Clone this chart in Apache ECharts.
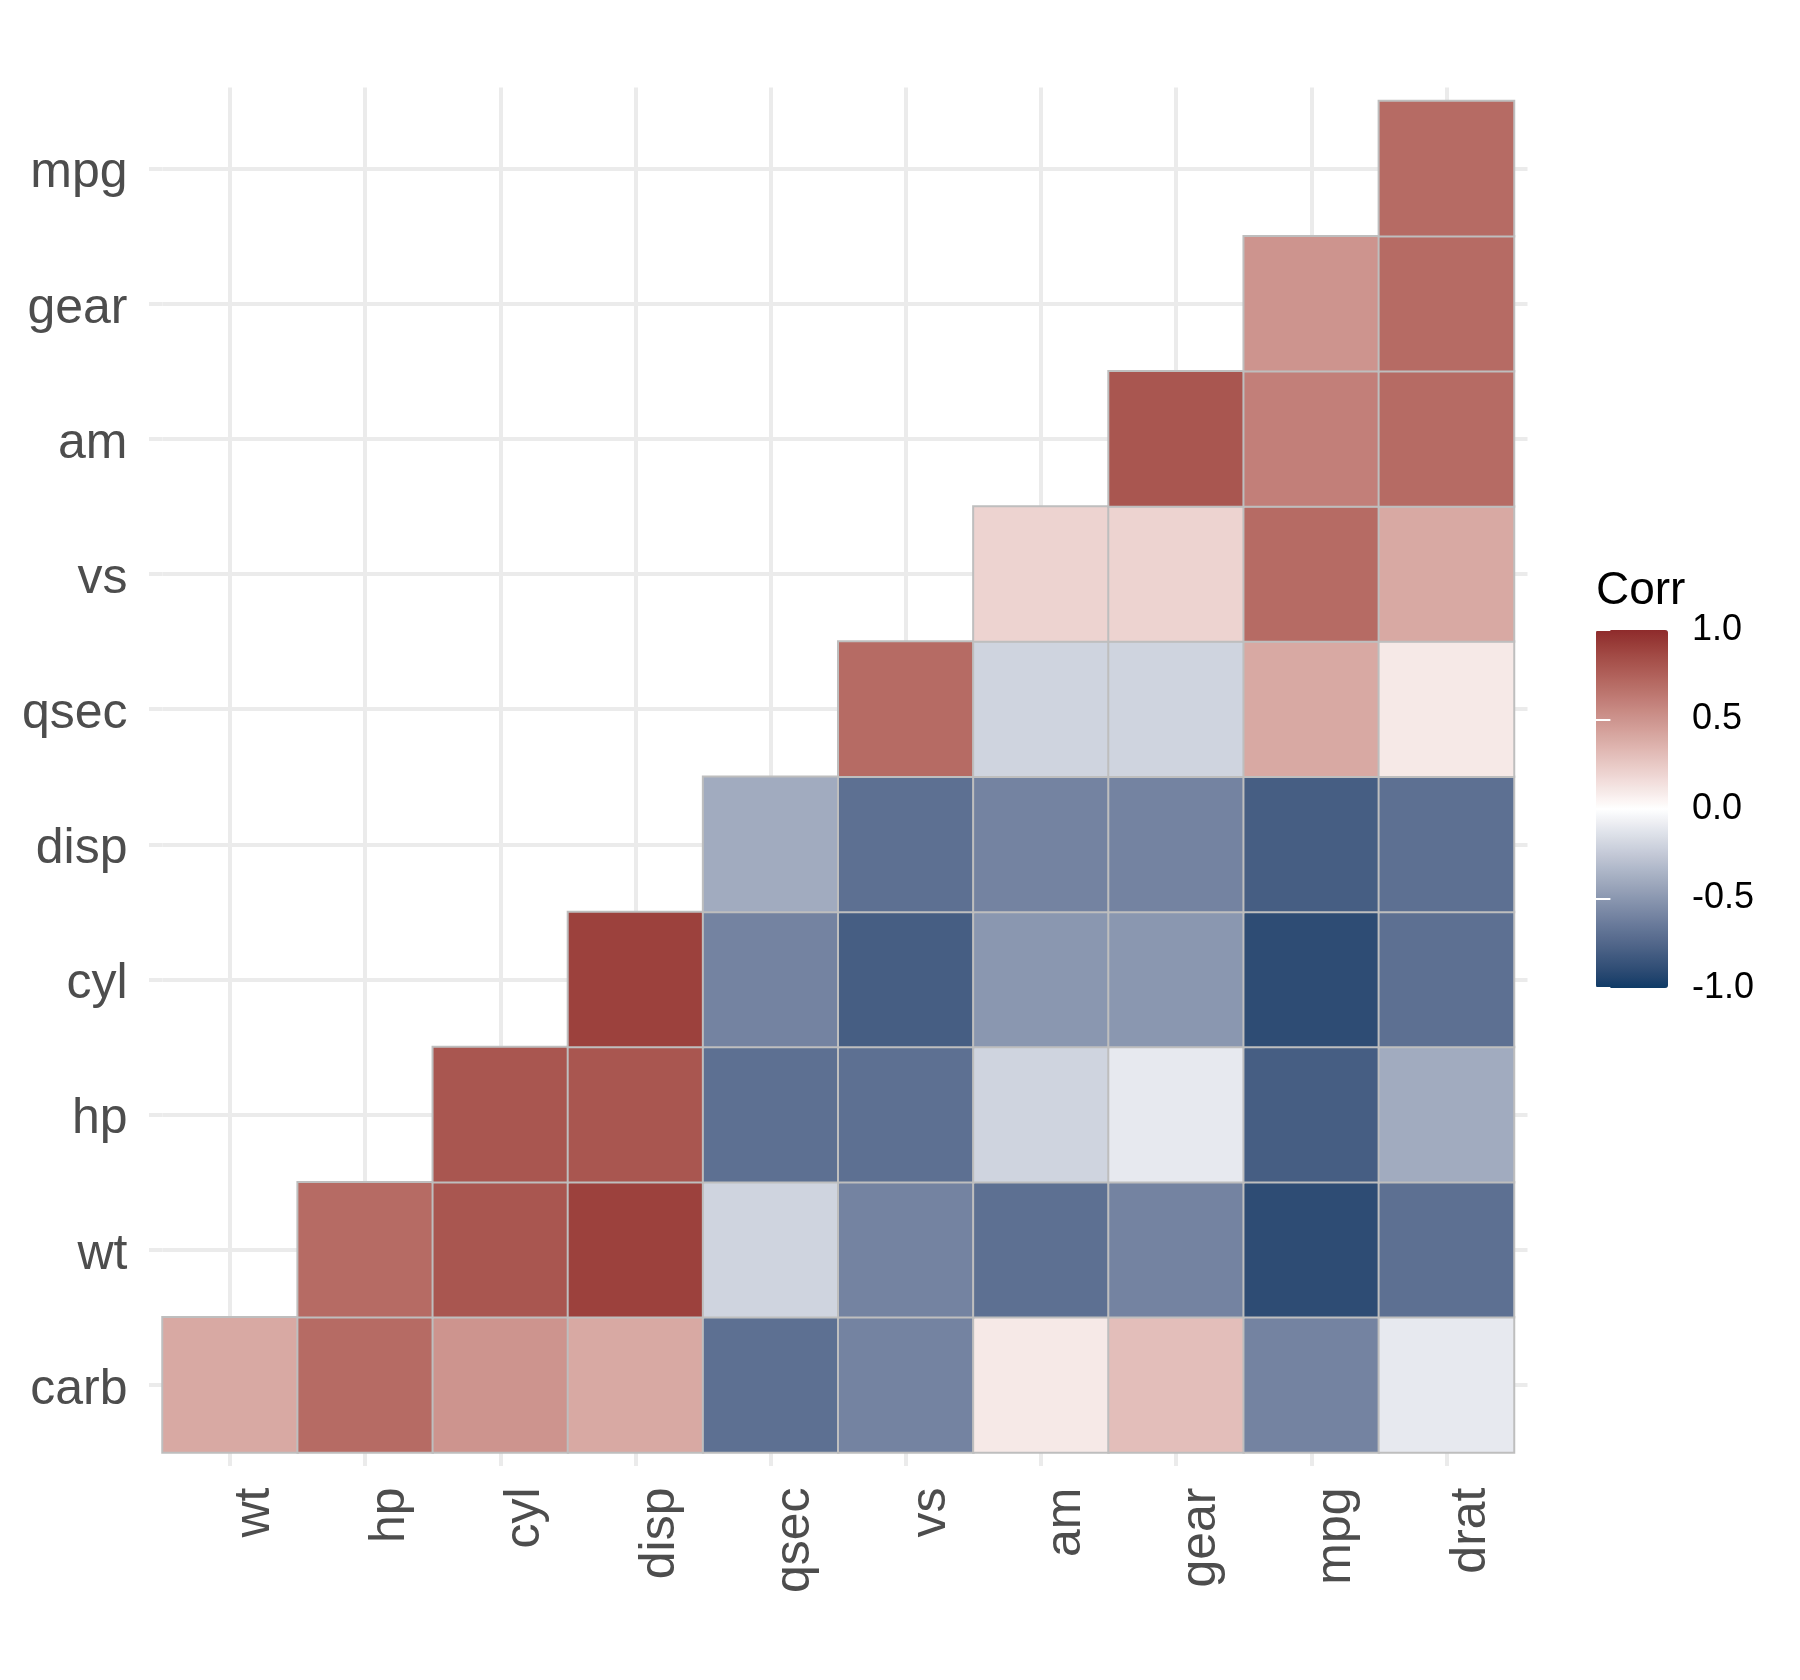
<!DOCTYPE html>
<html>
<head>
<meta charset="utf-8">
<script src="https://cdn.jsdelivr.net/npm/echarts@6/dist/echarts.min.js"></script>
<style>
html,body{margin:0;padding:0;background:#fff;}
#chart{width:1800px;height:1680px;}
</style>
</head>
<body>
<div id="chart"></div>
<script>
// ---- data ----
var xCategories = ['wt','hp','cyl','disp','qsec','vs','am','gear','mpg','drat'];
var yCategories = ['carb','wt','hp','cyl','disp','qsec','vs','am','gear','mpg'];
var rowCarb = [0.4, 0.7, 0.5, 0.4, -0.7, -0.6, 0.1, 0.3, -0.6, -0.1];
var rowWt   = [null, 0.7, 0.8, 0.9, -0.2, -0.6, -0.7, -0.6, -0.9, -0.7];
var rowHp   = [null, null, 0.8, 0.8, -0.7, -0.7, -0.2, -0.1, -0.8, -0.4];
var rowCyl  = [null, null, null, 0.9, -0.6, -0.8, -0.5, -0.5, -0.9, -0.7];
var rowDisp = [null, null, null, null, -0.4, -0.7, -0.6, -0.6, -0.8, -0.7];
var rowQsec = [null, null, null, null, null, 0.7, -0.2, -0.2, 0.4, 0.1];
var rowVs   = [null, null, null, null, null, null, 0.2, 0.2, 0.7, 0.4];
var rowAm   = [null, null, null, null, null, null, null, 0.8, 0.6, 0.7];
var rowGear = [null, null, null, null, null, null, null, null, 0.5, 0.7];
var rowMpg  = [null, null, null, null, null, null, null, null, null, 0.7];
var legendTicks = [-1, -0.5, 0, 0.5, 1];

var rows = [rowCarb, rowWt, rowHp, rowCyl, rowDisp, rowQsec, rowVs, rowAm, rowGear, rowMpg];
var heatData = [];
rows.forEach(function (row, yi) {
  row.forEach(function (v, xi) {
    if (v !== null) heatData.push([xi, yi, v]);
  });
});

// ---- Lab interpolation of gradient2 (low, white, high) ----
var LOW = '#0E3B66', MID = '#FFFFFF', HIGH = '#8E2B2B';
function hexToRgb(h){h=h.replace('#','');return [parseInt(h.substr(0,2),16),parseInt(h.substr(2,2),16),parseInt(h.substr(4,2),16)];}
function s2l(c){c/=255;return c<=0.04045?c/12.92:Math.pow((c+0.055)/1.055,2.4);}
function l2s(c){c=c<=0.0031308?12.92*c:1.055*Math.pow(c,1/2.4)-0.055;return Math.max(0,Math.min(255,Math.round(c*255)));}
function rgbToLab(rgb){
  var r=s2l(rgb[0]),g=s2l(rgb[1]),b=s2l(rgb[2]);
  var X=(0.4124*r+0.3576*g+0.1805*b)/0.95047,Y=0.2126*r+0.7152*g+0.0722*b,Z=(0.0193*r+0.1192*g+0.9505*b)/1.08883;
  function f(t){return t>0.008856?Math.cbrt(t):7.787*t+16/116;}
  var fx=f(X),fy=f(Y),fz=f(Z);
  return [116*fy-16,500*(fx-fy),200*(fy-fz)];
}
function labToHex(lab){
  var fy=(lab[0]+16)/116,fx=fy+lab[1]/500,fz=fy-lab[2]/200;
  function fi(t){return t>0.206893?t*t*t:(t-16/116)/7.787;}
  var X=fi(fx)*0.95047,Y=fi(fy),Z=fi(fz)*1.08883;
  var r=3.2406*X-1.5372*Y-0.4986*Z,g=-0.9689*X+1.8758*Y+0.0415*Z,b=0.0557*X-0.2040*Y+1.0570*Z;
  return 'rgb('+l2s(r)+','+l2s(g)+','+l2s(b)+')';
}
var labLow=rgbToLab(hexToRgb(LOW)),labMid=rgbToLab(hexToRgb(MID)),labHigh=rgbToLab(hexToRgb(HIGH));
var gradient=[];
var N=40;
for(var i=0;i<=N;i++){
  var v=-1+2*i/N,a,b,t;
  if(v<0){a=labMid;b=labLow;t=-v;}else{a=labMid;b=labHigh;t=v;}
  gradient.push(labToHex([a[0]+(b[0]-a[0])*t,a[1]+(b[1]-a[1])*t,a[2]+(b[2]-a[2])*t]));
}

var FONT = 'Liberation Sans';
var GRIDCOL = '#EBEBEB';
var chart = echarts.init(document.getElementById('chart'), null, {renderer:'canvas'});
var tickBase = {show:true, alignWithLabel:true, length:13.5, lineStyle:{color:GRIDCOL, width:4}};
var splitBase = {show:true, alignWithLabel:true, lineStyle:{color:GRIDCOL, width:4}};

chart.setOption({
  animation:false,
  backgroundColor:'#ffffff',
  title:{text:'Corr', left:1596, top:568, padding:0,
    textStyle:{fontFamily:FONT, fontSize:46, fontWeight:'normal', color:'#000000'}},
  grid:[
    {left:162.5, top:101, width:1351.5, height:1351.5, containLabel:false},
    {left:1596, top:630, width:72, height:358, containLabel:false}
  ],
  xAxis:[
    {type:'category', gridIndex:0, data:xCategories, position:'bottom',
     axisLine:{show:false}, axisTick:tickBase, splitLine:splitBase,
     axisLabel:{rotate:90, margin:35, verticalAlign:'top', fontFamily:FONT, fontSize:50, color:'#4D4D4D'}},
    {type:'category', gridIndex:0, data:xCategories, position:'top',
     axisLine:{show:false}, axisTick:tickBase, splitLine:{show:false}, axisLabel:{show:false}},
    {type:'value', gridIndex:1, min:0, max:1, show:false}
  ],
  yAxis:[
    {type:'category', gridIndex:0, data:yCategories, position:'left',
     axisLine:{show:false}, axisTick:tickBase, splitLine:splitBase,
     axisLabel:{margin:35, verticalAlign:'top', lineHeight:10, fontFamily:FONT, fontSize:50, color:'#4D4D4D'}},
    {type:'category', gridIndex:0, data:yCategories, position:'right',
     axisLine:{show:false}, axisTick:tickBase, splitLine:{show:false}, axisLabel:{show:false}},
    {type:'value', gridIndex:1, min:legendTicks[0], max:legendTicks[legendTicks.length-1], interval:0.5, position:'right', z:10,
     axisLine:{show:false}, splitLine:{show:false},
     axisTick:{show:true, inside:true, length:14.4, lineStyle:{color:'#FFFFFF', width:2}},
     axisLabel:{margin:24, fontFamily:FONT, fontSize:36, color:'#000000', formatter:function(v){return v.toFixed(1);}}},
    {type:'value', gridIndex:1, min:legendTicks[0], max:legendTicks[legendTicks.length-1], interval:0.5, position:'left', z:10,
     axisLine:{show:false}, splitLine:{show:false},
     axisTick:{show:true, inside:true, length:14.4, lineStyle:{color:'#FFFFFF', width:2}},
     axisLabel:{show:false}}
  ],
  visualMap:{
    type:'continuous', min:-1, max:1, calculable:false, orient:'vertical',
    left:1596, top:630, itemWidth:72, itemHeight:358, padding:0, z:2,
    inRange:{color:gradient}, seriesIndex:0, hoverLink:false, text:null, showLabel:false
  },
  series:[{
    type:'heatmap', xAxisIndex:0, yAxisIndex:0, data:heatData,
    itemStyle:{borderColor:'#BEBEBE', borderWidth:2},
    emphasis:{disabled:true}, label:{show:false}
  }]
});
</script>
</body>
</html>
